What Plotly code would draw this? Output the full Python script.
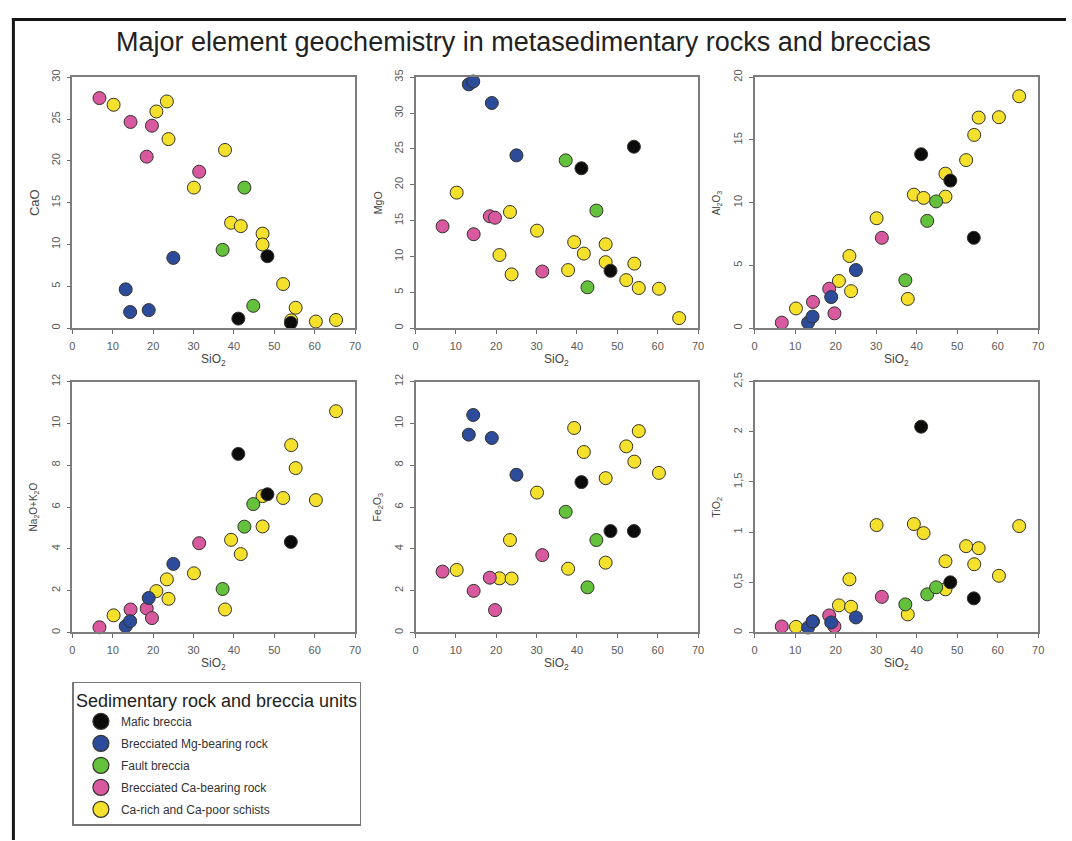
import plotly.graph_objects as go

# Rock units (legend order) and their marker colours
units = [
    "Mafic breccia",
    "Brecciated Mg-bearing rock",
    "Fault breccia",
    "Brecciated Ca-bearing rock",
    "Ca-rich and Ca-poor schists",
]
unit_colors = ["#0b0b0b", "#2c4b9b", "#63c13c", "#d8599f", "#f5e12c"]

# Unit index of every analysed sample
sample_unit = [0, 0, 0,
               1, 1, 1, 1,
               2, 2, 2,
               3, 3, 3, 3, 3,
               4, 4, 4, 4, 4, 4, 4, 4, 4, 4, 4, 4, 4, 4, 4]

# Major element oxides (wt.%)
sio2 = [41.1, 48.3, 54.1,
        13.2, 14.3, 18.9, 25.0,
        37.2, 42.6, 44.8,
        6.7, 14.4, 18.4, 19.7, 31.4,
        10.2, 20.8, 23.4, 23.8, 30.1, 37.8, 39.3, 41.7, 47.1, 47.1, 52.2, 54.2, 55.3, 60.3, 65.3]
cao = [1.14, 8.6, 0.63,
       4.64, 1.93, 2.16, 8.4,
       9.36, 16.8, 2.67,
       27.5, 24.65, 20.5, 24.2, 18.7,
       26.7, 25.9, 27.1, 22.6, 16.8, 21.3, 12.6, 12.2, 11.3, 10.0, 5.27, 0.94, 2.44, 0.79, 0.98]
mgo = [22.3, 8.0, 25.3,
       34.0, 34.4, 31.4, 24.1,
       23.4, 5.7, 16.4,
       14.2, 13.1, 15.6, 15.4, 7.9,
       18.9, 10.2, 16.2, 7.5, 13.6, 8.1, 12.0, 10.4, 11.7, 9.2, 6.7, 9.0, 5.6, 5.5, 1.4]
al2o3 = [13.86, 11.76, 7.2,
         0.44, 0.92, 2.48, 4.63,
         3.82, 8.55, 10.1,
         0.44, 2.09, 3.14, 1.18, 7.2,
         1.57, 3.76, 5.75, 2.95, 8.76, 2.33, 10.64, 10.38, 12.31, 10.48, 13.39, 15.40, 16.78, 16.81, 18.48]
na2o_k2o = [8.54, 6.61, 4.33,
            0.30, 0.54, 1.65, 3.28,
            2.08, 5.06, 6.14,
            0.25, 1.10, 1.15, 0.69, 4.27,
            0.82, 1.98, 2.54, 1.61, 2.83, 1.10, 4.43, 3.75, 6.52, 5.07, 6.43, 8.96, 7.86, 6.33, 10.58]
fe2o3 = [7.19, 4.85, 4.85,
         9.46, 10.4, 9.30, 7.54,
         5.77, 2.16, 4.42,
         2.91, 1.99, 2.62, 1.07, 3.70,
         2.99, 2.59, 4.42, 2.58, 6.69, 3.05, 9.78, 8.63, 7.38, 3.34, 8.90, 8.17, 9.63, 7.63, None]
tio2 = [2.05, 0.50, 0.34,
        0.05, 0.11, 0.10, 0.15,
        0.28, 0.38, 0.45,
        0.06, 0.11, 0.17, 0.06, 0.355,
        0.056, 0.27, 0.53, 0.256, 1.07, 0.18, 1.08, 0.99, 0.71, 0.43, 0.86, 0.68, 0.84, 0.565, 1.06]

# Panel definitions: values, axis title, y maximum, tick step, title font size
panels = [
    (cao, "CaO", 30, 5, 13),
    (mgo, "MgO", 35, 5, 10.5),
    (al2o3, "Al<sub>2</sub>O<sub>3</sub>", 20, 5, 10),
    (na2o_k2o, "Na<sub>2</sub>O+K<sub>2</sub>O", 12, 2, 10),
    (fe2o3, "Fe<sub>2</sub>O<sub>3</sub>", 12, 2, 10.5),
    (tio2, "TiO<sub>2</sub>", 2.5, 0.5, 10.5),
]

W, H = 1072, 841
col_px = [(70, 355), (416, 701), (758, 1044)]
row_px = [(69, 323), (377, 631)]
FONT = "Liberation Sans, Arial, sans-serif"
draw_order = [4, 3, 2, 1, 0]

fig = go.Figure()
layout = {}
annotations = []

for k, (values, ytitle, ymax, dy, tsize) in enumerate(panels):
    n = k + 1
    r, c = divmod(k, 3)
    x0, x1 = col_px[c]
    ytop, ybot = row_px[r]
    xa = "x" if n == 1 else f"x{n}"
    ya = "y" if n == 1 else f"y{n}"
    axis_style = dict(
        showgrid=False, zeroline=False, showline=True, mirror=True,
        linecolor="#7d7d7d", linewidth=1.5,
        ticks="outside", ticklen=4, tickwidth=1.2, tickcolor="#6d6d6d",
        tickfont=dict(family=FONT, size=11, color="#5a5a5a"),
    )
    layout["xaxis" if n == 1 else f"xaxis{n}"] = dict(
        domain=[x0 / W, x1 / W], anchor=ya, range=[0, 70], dtick=10,
        ticklabelstandoff=3, **axis_style)
    layout["yaxis" if n == 1 else f"yaxis{n}"] = dict(
        domain=[1 - ybot / H, 1 - ytop / H], anchor=xa, range=[0, ymax],
        dtick=dy, tickangle=-90, ticklabelstandoff=2, **axis_style)

    for u in draw_order:
        xs = [sx for sx, su in zip(sio2, sample_unit) if su == u]
        ys = [v for v, su in zip(values, sample_unit) if su == u]
        fig.add_trace(go.Scatter(
            x=xs, y=ys, mode="markers", xaxis=xa, yaxis=ya,
            name=units[u], legendgroup=units[u], showlegend=False,
            cliponaxis=False,
            marker=dict(size=13, color=unit_colors[u],
                        line=dict(color="#34322a", width=1)),
        ))

    annotations.append(dict(
        text="SiO<sub>2</sub>", xref=f"{xa} domain", yref=f"{ya} domain",
        x=0.5, y=0, yshift=-32, showarrow=False, xanchor="center",
        yanchor="middle", font=dict(family=FONT, size=12, color="#444")))
    annotations.append(dict(
        text=ytitle, xref=f"{xa} domain", yref=f"{ya} domain",
        x=0, y=0.5, xshift=-38, showarrow=False, textangle=-90,
        xanchor="center", yanchor="middle",
        font=dict(family=FONT, size=tsize, color="#444")))

# Legend entries
for u, name in enumerate(units):
    fig.add_trace(go.Scatter(
        x=[None], y=[None], mode="markers", name=name, legendgroup=name,
        legendrank=u + 1, showlegend=True,
        marker=dict(size=20, color=unit_colors[u],
                    line=dict(color="#34322a", width=1.2)),
    ))

annotations.append(dict(
    text="Major element geochemistry in metasedimentary rocks and breccias",
    xref="paper", yref="paper", x=525 / W, y=1 - 33 / H, showarrow=False,
    xanchor="center", yanchor="middle",
    font=dict(family=FONT, size=27, color="#222")))

fig.update_layout(
    width=W, height=H, margin=dict(l=0, r=0, t=0, b=0),
    paper_bgcolor="white", plot_bgcolor="white",
    font=dict(family=FONT, color="#333"),
    separators=",.",
    annotations=annotations,
    shapes=[
        dict(type="line", xref="paper", yref="paper", x0=9 / W, x1=1,
             y0=1 - 10.5 / H, y1=1 - 10.5 / H, line=dict(color="#151515", width=3)),
        dict(type="line", xref="paper", yref="paper", x0=10.5 / W, x1=10.5 / W,
             y0=0, y1=1 - 9 / H, line=dict(color="#151515", width=3)),
    ],
    legend=dict(
        x=70 / W, y=1 - 681 / H, xanchor="left", yanchor="top",
        bgcolor="white", bordercolor="#777", borderwidth=1.5,
        font=dict(family=FONT, size=12, color="#333"),
        title=dict(text="Sedimentary rock and breccia units",
                   font=dict(family=FONT, size=18, color="#222")),
        tracegroupgap=3, indentation=7, itemsizing="trace",
    ),
    **layout,
)

fig.write_html("out.html")
